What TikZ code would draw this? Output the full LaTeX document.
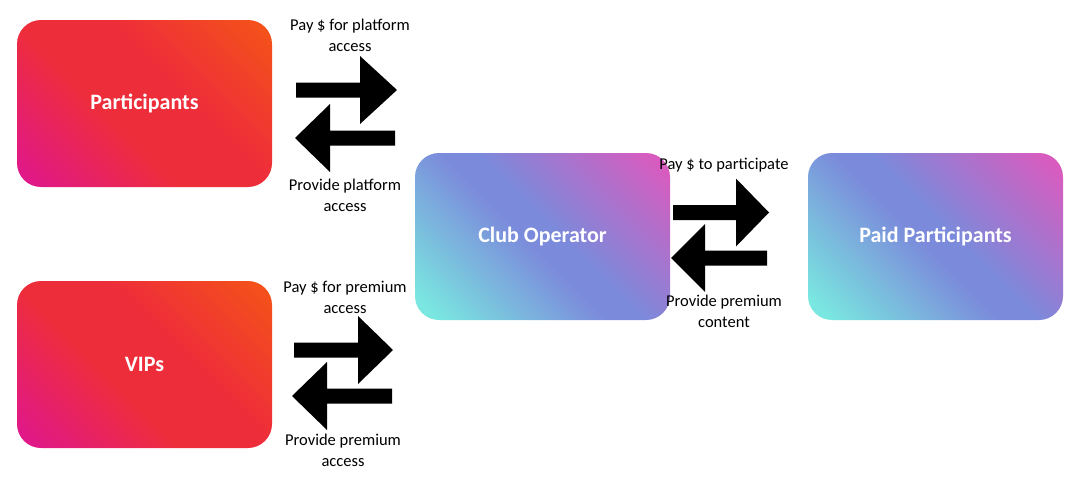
\documentclass[tikz,border=0pt]{standalone}
\usepackage{fontspec}
\setmainfont{Carlito}
\definecolor{rTR}{HTML}{F4511A}
\definecolor{rM}{HTML}{EE2D3A}
\definecolor{rBL}{HTML}{E0188A}
\definecolor{bTR}{HTML}{D85CBF}
\definecolor{bM}{HTML}{7B8ADB}
\definecolor{bBL}{HTML}{7AE8E0}
\pgfdeclarehorizontalshading{redshade}{100bp}{color(0bp)=(rBL); color(17bp)=(rBL);
  color(42bp)=(rM); color(58bp)=(rM); color(83bp)=(rTR); color(100bp)=(rTR)}
\pgfdeclarehorizontalshading{blueshade}{100bp}{color(0bp)=(bBL); color(18bp)=(bBL);
  color(47bp)=(bM); color(53bp)=(bM); color(82bp)=(bTR); color(100bp)=(bTR)}
\tikzset{
  box/.style={rounded corners=24pt, minimum width=255pt, minimum height=167pt,
    inner sep=0pt, text=white, font=\fontsize{22}{24}\selectfont\bfseries},
  redbox/.style={box, shading=redshade, shading angle=45},
  bluebox/.style={box, shading=blueshade, shading angle=45},
  lbl/.style={align=center, font=\fontsize{16.5}{21}\selectfont, inner sep=0pt},
}
% #1 tail x, #2 head base x, #3 tip x, #4 centre y
\newcommand\blkarrow[4]{%
  \fill[black] (#1,#4-7.5) -- (#2,#4-7.5) -- (#2,#4-34) -- (#3,#4)
    -- (#2,#4+34) -- (#2,#4+7.5) -- (#1,#4+7.5) -- cycle;}
\begin{document}
\begin{tikzpicture}[x=1pt,y=-1pt]
\useasboundingbox[fill=white] (0,0) rectangle (1080,479);
\node[redbox] (part) at (144.5,103.5) {Participants};
\node[redbox] (vip) at (144.5,364.5) {VIPs};
\node[bluebox] (club) at (542.5,236.5) {Club Operator};
\node[bluebox] (paid) at (935.5,236.5) {Paid Participants};
% top pair
\blkarrow{296}{360}{397}{90}
\blkarrow{395}{330}{295}{138}
\node[lbl] (l1) at (350,35.5) {Pay \$ for platform\\access};
\node[lbl] (l2) at (345,195.5) {Provide platform\\access};
% bottom pair
\blkarrow{294}{358}{393}{350}
\blkarrow{392}{327}{292}{396}
\node[lbl] (l3) at (345,297) {Pay \$ for premium\\access};
\node[lbl] (l4) at (343,450.5) {Provide premium\\access};
% right pair
\blkarrow{673}{736}{769}{212.5}
\blkarrow{767}{705}{671}{258}
\node[lbl] (l5) at (724,165) {Pay \$ to participate};
\node[lbl] (l6) at (724,311.5) {Provide premium\\content};
\end{tikzpicture}
\end{document}
